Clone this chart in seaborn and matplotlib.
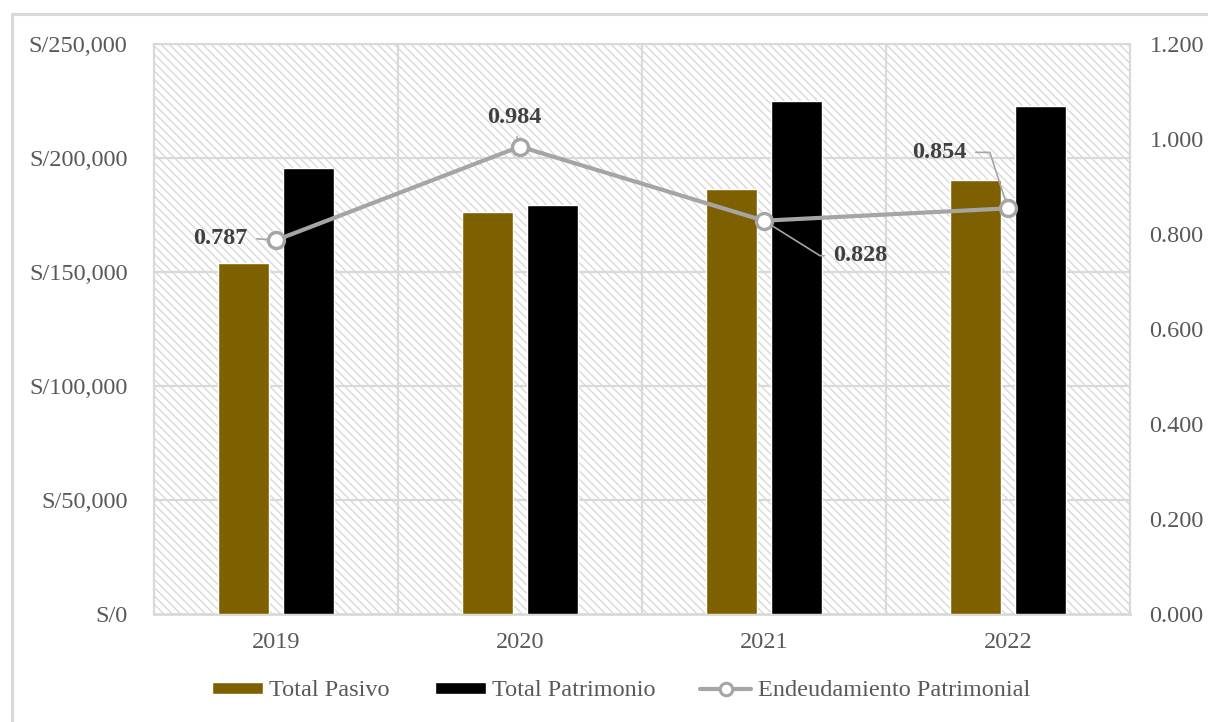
import matplotlib
matplotlib.use("Agg")
import matplotlib.pyplot as plt
from matplotlib.patches import Rectangle, Patch
from matplotlib.lines import Line2D
from matplotlib.ticker import FuncFormatter, MultipleLocator
import seaborn as sns
import pandas as pd

# Data
years = ["2019", "2020", "2021", "2022"]
total_pasivo = [153900, 176300, 186400, 190400]
total_patrimonio = [195600, 179400, 225000, 222900]
endeudamiento = [0.787, 0.984, 0.828, 0.854]

sns.set_theme(style="white")
plt.rcParams["font.family"] = ["Liberation Serif", "DejaVu Serif"]
plt.rcParams["hatch.color"] = "#e0e0e0"
plt.rcParams["hatch.linewidth"] = 1.0

GRID = "#d9d9d9"
TEXT = "#595959"
FS = 17.5

df = pd.DataFrame({
    "Año": years * 2,
    "Valor": total_pasivo + total_patrimonio,
    "Serie": ["Total Pasivo"] * 4 + ["Total Patrimonio"] * 4,
})

fig = plt.figure(figsize=(12.08, 7.22), dpi=100)
# outer chart frame
fig.patches.append(Rectangle((12 / 1208, -0.01), 1.05, (722 - 14) / 722 + 0.01,
                             transform=fig.transFigure, fill=False,
                             edgecolor=GRID, linewidth=2.2))

ax = fig.add_axes([154 / 1208, 1 - 614 / 722, (1130 - 154) / 1208, (614 - 44) / 722])

# hatched plot-area background
ax.add_patch(Rectangle((0, 0), 1, 1, transform=ax.transAxes, facecolor="white",
                       hatch="\\\\\\\\", edgecolor=GRID, linewidth=0, zorder=0))

sns.barplot(data=df, x="Año", y="Valor", hue="Serie", ax=ax,
            palette={"Total Pasivo": "#7f6000", "Total Patrimonio": "#000000"},
            width=0.533, gap=0.214, saturation=1, legend=False, zorder=3)

ax.set_xlim(-0.5, 3.5)
ax.set_ylim(0, 250000)
ax.yaxis.set_major_locator(MultipleLocator(50000))
ax.yaxis.set_major_formatter(FuncFormatter(lambda v, p: f"S/{int(v):,}"))
ax.set_xlabel("")
ax.set_ylabel("")

# grid lines
for v in range(50000, 250001, 50000):
    ax.axhline(v, color=GRID, linewidth=1.6, zorder=1)
for xb in [0.5, 1.5, 2.5]:
    ax.axvline(xb, color=GRID, linewidth=1.6, zorder=1)

for s in ["top", "right", "left"]:
    ax.spines[s].set_color(GRID)
    ax.spines[s].set_linewidth(1.6)
ax.spines["bottom"].set_color(GRID)
ax.spines["bottom"].set_linewidth(2)

ax.set_xticks([0, 1, 2, 3])
ax.set_xticklabels(years)
ax.set_xticks([-0.5, 0.5, 1.5, 2.5, 3.5], minor=True)
ax.tick_params(axis="x", which="major", length=0, pad=13, labelsize=FS, colors=TEXT)
ax.tick_params(axis="x", which="minor", length=7, width=1.6, color=GRID)
ax.tick_params(axis="y", length=0, pad=19, labelsize=FS, colors=TEXT)

# secondary axis with the ratio line
ax2 = ax.twinx()
ax2.set_ylim(0, 1.2)
ax2.yaxis.set_major_locator(MultipleLocator(0.2))
ax2.yaxis.set_major_formatter(FuncFormatter(lambda v, p: f"{v:.3f}"))
ax2.tick_params(axis="y", length=0, pad=14, labelsize=FS, colors=TEXT)
for s in ax2.spines.values():
    s.set_visible(False)

ax2.plot(range(len(years)), endeudamiento, color="#a5a5a5", linewidth=3.0,
         marker="o", markersize=11.5, markerfacecolor="white",
         markeredgecolor="#a5a5a5", markeredgewidth=2.4, zorder=5)

# data labels with leader lines (offsets in pixels)
label_specs = [
    dict(xytext=(-28, 2), ha="right", relpos=(1, 0.5), conn="arc3"),
    dict(xytext=(-6, 29), ha="center", relpos=(0.5, 0), conn="arc3"),
    dict(xytext=(69, -35), ha="left", relpos=(0, 0.5), conn="angle,angleA=0,angleB=-32,rad=0"),
    dict(xytext=(-41, 56), ha="right", relpos=(1, 0.5), conn="angle,angleA=0,angleB=108,rad=0"),
]
for i, (val, sp) in enumerate(zip(endeudamiento, label_specs)):
    ax2.annotate(f"{val:.3f}", xy=(i, val), xytext=sp["xytext"],
                 textcoords="offset pixels", ha=sp["ha"], va="center",
                 fontsize=FS, fontweight="bold", color="#404040", zorder=6,
                 arrowprops=dict(arrowstyle="-", color="#a5a5a5", lw=1.2,
                                 shrinkA=4, shrinkB=6, relpos=sp["relpos"],
                                 connectionstyle=sp["conn"]))

# legend
handles = [
    Patch(facecolor="#7f6000", label="Total Pasivo"),
    Patch(facecolor="#000000", label="Total Patrimonio"),
    Line2D([0], [0], color="#a5a5a5", linewidth=3.0, marker="o", markersize=9,
           markerfacecolor="white", markeredgecolor="#a5a5a5", markeredgewidth=2.2,
           label="Endeudamiento Patrimonial"),
]
fig.legend(handles=handles, loc="center", bbox_to_anchor=(621 / 1208, 1 - 691 / 722),
           ncol=3, frameon=False, fontsize=FS, labelcolor=TEXT,
           handlelength=2.1, handleheight=0.42, columnspacing=1.85, handletextpad=0.25)

fig.savefig("out.png", dpi=100, facecolor="white")
